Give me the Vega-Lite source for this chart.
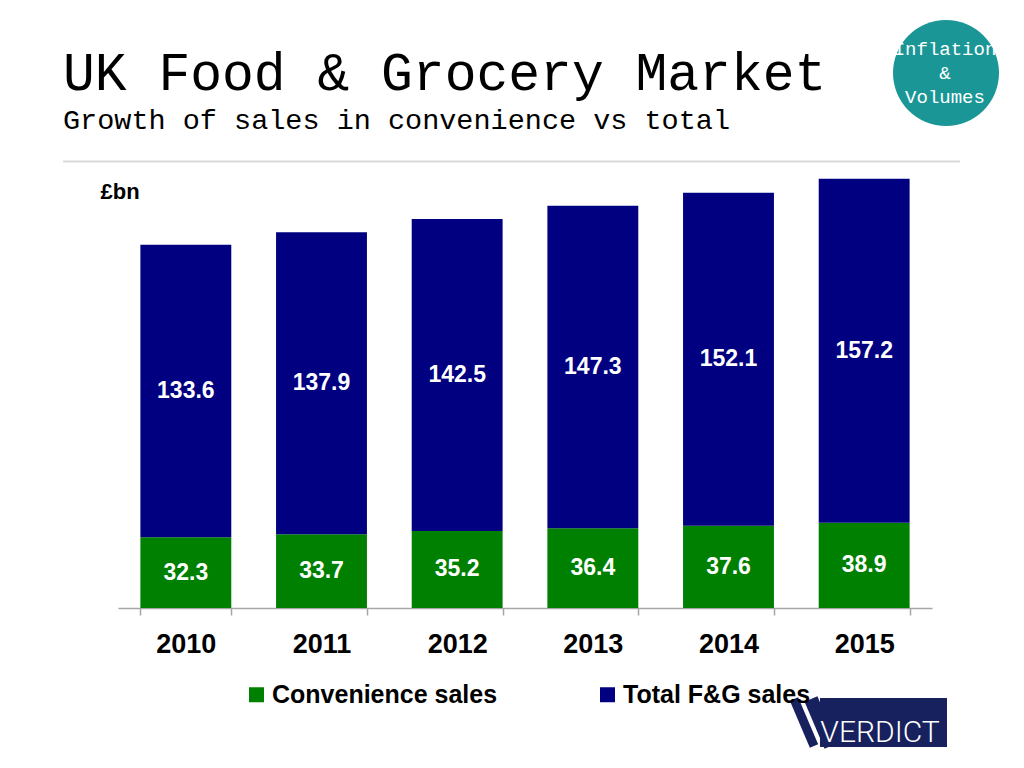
{
  "$schema": "https://vega.github.io/schema/vega-lite/v6.json",
  "autosize": {"type": "none"},
  "width": 814,
  "height": 440,
  "padding": {"left": 118, "top": 168, "right": 92, "bottom": 160},
  "background": "white",
  "view": {"stroke": null},
  "title": {
    "text": "UK Food & Grocery Market",
    "subtitle": "Growth of sales in convenience vs total",
    "anchor": "start",
    "frame": "group",
    "dx": -55,
    "offset": -114,
    "font": "Liberation Mono",
    "fontSize": 53,
    "fontWeight": "normal",
    "color": "black",
    "subtitleFont": "Liberation Mono",
    "subtitleFontSize": 28.5,
    "subtitleColor": "black",
    "subtitlePadding": 5
  },
  "data": {
    "values": [
      {"year": "2010", "series": "Convenience sales", "value": 32.3},
      {"year": "2011", "series": "Convenience sales", "value": 33.7},
      {"year": "2012", "series": "Convenience sales", "value": 35.2},
      {"year": "2013", "series": "Convenience sales", "value": 36.4},
      {"year": "2014", "series": "Convenience sales", "value": 37.6},
      {"year": "2015", "series": "Convenience sales", "value": 38.9},
      {"year": "2010", "series": "Total F&G sales", "value": 133.6},
      {"year": "2011", "series": "Total F&G sales", "value": 137.9},
      {"year": "2012", "series": "Total F&G sales", "value": 142.5},
      {"year": "2013", "series": "Total F&G sales", "value": 147.3},
      {"year": "2014", "series": "Total F&G sales", "value": 152.1},
      {"year": "2015", "series": "Total F&G sales", "value": 157.2}
    ]
  },
  "layer": [
    {
      "mark": {"type": "bar"},
      "encoding": {
        "x": {
          "field": "year",
          "type": "ordinal",
          "scale": {"paddingInner": 0.33, "paddingOuter": 0.165},
          "axis": {
            "title": null,
            "labelAngle": 0,
            "labelFont": "Liberation Sans",
            "labelFontSize": 27,
            "labelFontWeight": "bold",
            "labelColor": "black",
            "labelPadding": 16,
            "domainColor": "#a6a6a6",
            "domainWidth": 1.5,
            "tickColor": "#a6a6a6",
            "tickWidth": 1.5,
            "tickSize": 7,
            "tickBand": "extent"
          }
        },
        "y": {
          "field": "value",
          "type": "quantitative",
          "stack": "zero",
          "scale": {"domain": [0, 201], "nice": false},
          "axis": {
            "title": "£bn",
            "titleAngle": 0,
            "titleX": -18,
            "titleY": 30,
            "titleAlign": "left",
            "titleBaseline": "alphabetic",
            "titleFont": "Liberation Sans",
            "titleFontSize": 22,
            "titleFontWeight": "bold",
            "titleColor": "black",
            "labels": false,
            "ticks": false,
            "domain": false,
            "grid": false
          }
        },
        "color": {
          "field": "series",
          "type": "nominal",
          "scale": {
            "domain": ["Convenience sales", "Total F&G sales"],
            "range": ["#008000", "#000080"]
          },
          "legend": {
            "title": null,
            "orient": "none",
            "direction": "horizontal",
            "legendX": 126,
            "legendY": 514,
            "symbolType": "square",
            "symbolSize": 225,
            "symbolStrokeWidth": 0,
            "labelFont": "Liberation Sans",
            "labelFontSize": 25,
            "labelFontWeight": "bold",
            "labelColor": "black",
            "labelOffset": 3,
            "labelLimit": 400,
            "columnPadding": 97
          }
        },
        "order": {"field": "series", "sort": "ascending"}
      }
    },
    {
      "transform": [
        {
          "stack": "value",
          "groupby": ["year"],
          "sort": [{"field": "series", "order": "ascending"}],
          "as": ["v0", "v1"]
        },
        {"calculate": "(datum.v0 + datum.v1) / 2", "as": "mid"}
      ],
      "mark": {
        "type": "text",
        "color": "white",
        "font": "Liberation Sans",
        "fontSize": 23,
        "fontWeight": "bold",
        "baseline": "middle"
      },
      "encoding": {
        "x": {"field": "year", "type": "ordinal"},
        "y": {"field": "mid", "type": "quantitative"},
        "text": {"field": "value", "type": "quantitative", "format": ".1f"}
      }
    },
    {
      "data": {"values": [{"label": "rule"}]},
      "mark": {"type": "rule", "color": "#d9d9d9", "strokeWidth": 2, "clip": false},
      "encoding": {
        "x": {"value": -55},
        "x2": {"value": 842},
        "y": {"value": -6.5}
      }
    },
    {
      "data": {"values": [{"label": "Inflation\n&\nVolumes"}]},
      "layer": [
        {
          "mark": {"type": "point", "shape": "circle", "filled": true, "color": "#1a9696", "opacity": 1, "size": 11236, "clip": false},
          "encoding": {"x": {"value": 828}, "y": {"value": -95}}
        },
        {
          "mark": {
            "type": "text",
            "color": "white",
            "font": "Liberation Mono",
            "fontSize": 19,
            "lineBreak": "\n",
            "lineHeight": 24,
            "align": "center",
            "baseline": "middle",
            "clip": false
          },
          "encoding": {"x": {"value": 827}, "y": {"value": -119}, "text": {"field": "label"}}
        }
      ]
    },
    {
      "data": {"values": [{"label": "VERDICT"}]},
      "layer": [
        {
          "mark": {"type": "rect", "color": "#17215e", "clip": false},
          "encoding": {"x": {"value": 702}, "x2": {"value": 829}, "y": {"value": 530}, "y2": {"value": 579}}
        },
        {
          "mark": {"type": "rule", "color": "#17215e", "strokeWidth": 9, "clip": false},
          "encoding": {"x": {"value": 676}, "x2": {"value": 696}, "y": {"value": 531}, "y2": {"value": 578}}
        },
        {
          "mark": {"type": "rule", "color": "#17215e", "strokeWidth": 14, "clip": false},
          "encoding": {"x": {"value": 693}, "x2": {"value": 713}, "y": {"value": 531}, "y2": {"value": 578}}
        },
        {
          "mark": {
            "type": "text",
            "color": "white",
            "font": "Roboto",
            "fontSize": 30,
            "fontWeight": 300,
            "align": "center",
            "baseline": "alphabetic",
            "clip": false
          },
          "encoding": {"x": {"value": 762}, "y": {"value": 574}, "text": {"field": "label"}}
        }
      ]
    }
  ]
}
